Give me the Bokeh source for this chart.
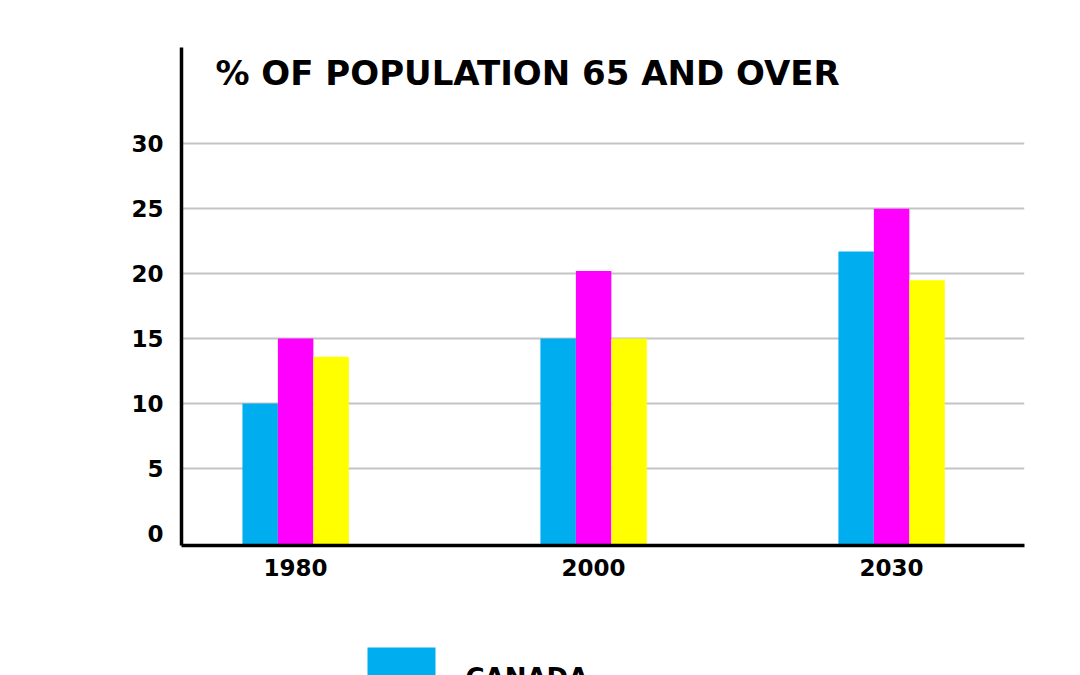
from bokeh.plotting import figure
from bokeh.layouts import column
from bokeh.models import Range1d, FixedTicker, Label, ColumnDataSource
from bokeh.core.properties import value
from bokeh.embed import file_html
from bokeh.resources import INLINE

# ---- data ----
years = ["1980", "2000", "2030"]
canada = [10, 15, 21.7]
series2 = [15, 20.2, 25]
series3 = [13.6, 15, 19.5]
y_ticks = [0, 5, 10, 15, 20, 25, 30]
title_text = "% OF POPULATION 65 AND OVER"
legend_labels = ["CANADA"]

colors = ["#00AEEF", "#FF00FF", "#FFFF00"]
FONT = "DejaVu Sans"

Y_MIN, Y_MAX = -0.92, 37.4
X_MIN, X_MAX = -0.383, 2.446
BAR_W = 0.119
LEFT, RIGHT, W = 181, 56, 1080

p = figure(width=W, height=600, output_backend="svg", toolbar_location=None,
           x_range=Range1d(X_MIN, X_MAX), y_range=Range1d(Y_MIN, Y_MAX),
           min_border_left=LEFT, min_border_right=RIGHT, min_border_top=47,
           min_border_bottom=55)
p.outline_line_color = None
p.background_fill_color = "white"
p.border_fill_color = "white"

xs = list(range(len(years)))
for i, vals in enumerate([canada, series2, series3]):
    src = ColumnDataSource(dict(x=[x + (i - 1) * BAR_W for x in xs], top=vals,
                                bottom=[Y_MIN] * len(vals)))
    p.vbar(x="x", top="top", bottom="bottom", width=BAR_W, source=src,
           fill_color=colors[i], line_color=None)

# axes
p.xaxis.ticker = FixedTicker(ticks=xs)
p.xaxis.major_label_overrides = {i: y for i, y in enumerate(years)}
p.yaxis.ticker = FixedTicker(ticks=y_ticks)
for ax in (p.xaxis, p.yaxis):
    ax.axis_line_color = "black"
    ax.axis_line_width = 3.5
    ax.major_tick_line_color = None
    ax.minor_tick_line_color = None
    ax.major_label_text_font = FONT
    ax.major_label_text_font_style = "bold"
    ax.major_label_text_font_size = "23px"
    ax.major_label_text_color = "black"
p.yaxis.major_label_standoff = 12
p.xaxis.major_label_standoff = 7

p.xgrid.grid_line_color = None
p.ygrid.ticker = FixedTicker(ticks=y_ticks[1:])
p.ygrid.grid_line_color = "#c4c4c4"
p.ygrid.grid_line_width = 2

# title inside the frame
p.add_layout(Label(x=-0.269, y=35.4, text=title_text, text_font=FONT,
                   text_font_style="bold", text_font_size="34px",
                   text_color="black", text_baseline="alphabetic"))

# ---- legend strip below (only the first entry falls inside the window) ----
LEG_H = 75
lg = figure(width=W, height=LEG_H, output_backend="svg", toolbar_location=None,
            x_range=Range1d(LEFT, W - RIGHT), y_range=Range1d(LEG_H, 0),
            min_border_left=LEFT, min_border_right=RIGHT,
            min_border_top=0, min_border_bottom=0)
lg.axis.visible = False
lg.grid.visible = False
lg.outline_line_color = None
lg.border_fill_color = "white"
lg.background_fill_color = "white"

SW_LEFT, SW_W, SW_TOP, SW_H, ROW = 367, 68, 47, 45, 70
TXT_X, TXT_BASE = 465, 77
n = len(legend_labels)
lsrc = ColumnDataSource(dict(
    x=[SW_LEFT + SW_W / 2] * n,
    y=[SW_TOP + SW_H / 2 + k * ROW for k in range(n)],
    tx=[TXT_X] * n,
    ty=[TXT_BASE + k * ROW for k in range(n)],
    label=legend_labels,
    color=colors[:n]))
lg.rect(x="x", y="y", width=SW_W, height=SW_H, fill_color="color",
        line_color=None, source=lsrc)
lg.text(x="tx", y="ty", text="label", source=lsrc, text_font=value(FONT),
        text_font_style="bold", text_font_size="26px", text_color="black",
        text_baseline="alphabetic")

layout = column(p, lg, spacing=0)
open("out.html", "w").write(file_html(layout, INLINE))
